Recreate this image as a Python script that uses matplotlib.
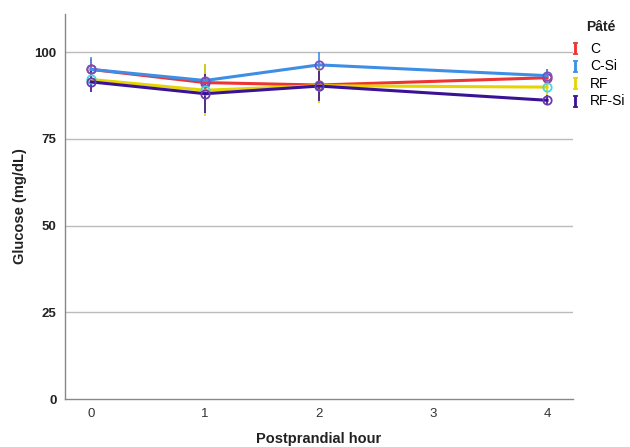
import matplotlib
matplotlib.use("Agg")
import matplotlib.pyplot as plt
from matplotlib.lines import Line2D

plt.rcParams['font.family'] = ['Liberation Sans', 'DejaVu Sans']
plt.rcParams['mathtext.fontset'] = 'dejavuserif'

hours = [0, 1, 2, 4]
groups = ["C", "C-Si", "RF", "RF-Si"]
c_mean = [95.0, 91.2, 90.5, 92.6]
c_err = [3.0, 4.5, 4.0, 2.5]
csi_mean = [95.0, 91.8, 96.3, 93.2]
csi_err = [3.5, 4.8, 3.8, 2.0]
rf_mean = [92.1, 89.0, 90.3, 89.9]
rf_err = [2.8, 7.5, 5.0, 3.0]
rfsi_mean = [91.4, 88.0, 90.2, 86.1]
rfsi_err = [3.0, 5.6, 4.2, 1.5]
xticks = [0, 1, 2, 3, 4]
yticks = [0, 25, 50, 75, 100]
legend_title = "Pâté"

means = [c_mean, csi_mean, rf_mean, rfsi_mean]
errs = [c_err, csi_err, rf_err, rfsi_err]
colors = ['#ee3333', '#3e8ee6', '#e6d400', '#3a1296']
mec = ['#b03070', '#7a4fc0', '#40d8e8', '#6a3ab0']

fig = plt.figure(figsize=(6.3, 4.47), dpi=100)
ax = fig.add_axes([0.103, 0.107, 0.807, 0.862])

for m, e, c, mc in zip(means, errs, colors, mec):
    ax.errorbar(hours, m, yerr=e, fmt='none', ecolor=c, elinewidth=1.2, capsize=0, zorder=3)
for m, e, c, mc, g in zip(means, errs, colors, mec, groups):
    ax.plot(hours, m, color=c, lw=2.2, marker='o', ms=6, mfc='none', mec=mc, mew=1.3, zorder=4, label=g)

ax.set_xlim(-0.23, 4.23)
ax.set_ylim(0, 111)
ax.set_xticks(xticks)
ax.set_yticks(yticks)
ax.set_xticklabels([str(t) for t in xticks], fontsize=9.5, color='#333333')
ax.set_yticklabels([str(t) for t in yticks], fontsize=9.5, fontweight='bold', color='#222222')
ax.tick_params(axis='both', length=0, pad=6)
for y in yticks[1:]:
    ax.axhline(y, color='#bbbbbb', lw=1.0, zorder=1)
for s in ['top', 'right']:
    ax.spines[s].set_visible(False)
for s in ['left', 'bottom']:
    ax.spines[s].set_color('#888888')
    ax.spines[s].set_linewidth(1.0)

ax.set_xlabel("Postprandial hour", fontsize=10.5, fontweight='bold', labelpad=9, color='#222222')
ax.set_ylabel("Glucose (mg/dL)", fontsize=10.5, fontweight='bold', labelpad=5, color='#222222')

handles = [Line2D([], [], ls='none', marker=r'$\mathrm{I}$', ms=8.5, color=c, mec=c, mew=0.6) for c in colors]
leg = fig.legend(handles, groups, loc='upper left', bbox_to_anchor=(569 / 630, 1 - 42 / 447),
                 frameon=False, fontsize=10, handlelength=0.8, handletextpad=0.7,
                 labelspacing=0.25, borderaxespad=0.0, borderpad=0.0)
fig.text(586 / 630, 1 - 27 / 447, legend_title, fontsize=10, fontweight='bold',
         ha='left', va='center', color='#222222')

fig.savefig("out.png", dpi=100)
